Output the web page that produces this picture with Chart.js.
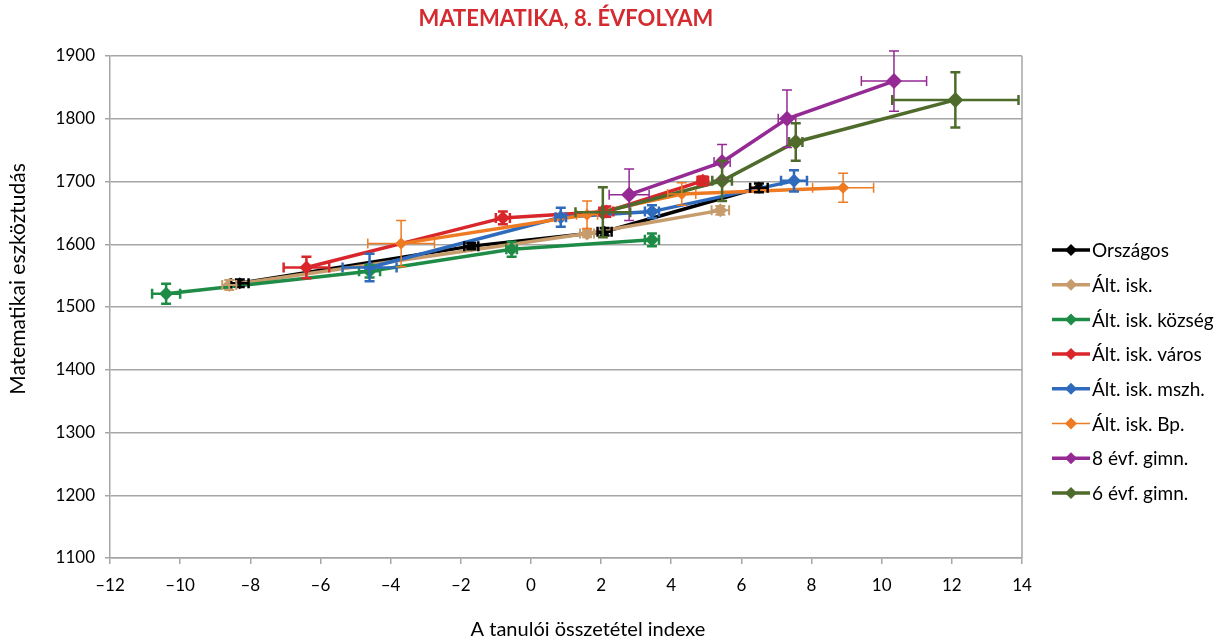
<!DOCTYPE html>
<html>
<head>
<meta charset="utf-8">
<script src="https://cdn.jsdelivr.net/npm/chart.js@4.4.0/dist/chart.umd.min.js"></script>
<style>
body { margin: 0; background: #fff; }
.wrap { width: 1231px; height: 644px; position: relative; }
</style>
</head>
<body>
<div class="wrap"><canvas id="myChart"></canvas></div>
<script>
// series names (legend order)
const seriesNames = ['Országos', 'Ált. isk.', 'Ált. isk. község', 'Ált. isk. város', 'Ált. isk. mszh.', 'Ált. isk. Bp.', '8 évf. gimn.', '6 évf. gimn.'];

// x = tanulói összetétel indexe, y = eszköztudás, xErr/yErr = +/- hibasáv
const orszagosX = [-8.3, -1.7, 2.1, 6.5];
const orszagosY = [1538, 1597, 1620, 1690];
const orszagosXErr = [0.25, 0.2, 0.2, 0.25];
const orszagosYErr = [6, 5, 6, 7];

const altIskX = [-8.6, 1.6, 5.4];
const altIskY = [1535, 1617, 1654];
const altIskXErr = [0.2, 0.2, 0.25];
const altIskYErr = [8, 6, 7];

const kozsegX = [-10.4, -4.6, -0.55, 3.45];
const kozsegY = [1521, 1557, 1592, 1607];
const kozsegXErr = [0.4, 0.3, 0.15, 0.2];
const kozsegYErr = [16, 10, 12, 10];

const varosX = [-6.4, -0.8, 2.15, 4.9];
const varosY = [1563, 1642, 1652, 1701];
const varosXErr = [0.65, 0.2, 0.2, 0.15];
const varosYErr = [17, 10, 8, 7];

const mszhX = [-4.6, 0.85, 3.45, 7.5];
const mszhY = [1563, 1643, 1652, 1701];
const mszhXErr = [0.77, 0.15, 0.2, 0.37];
const mszhYErr = [22, 15, 10, 17];

const bpX = [-3.7, 1.6, 4.3, 8.9];
const bpY = [1601, 1647, 1680, 1690];
const bpXErr = [0.95, 0.3, 0.4, 0.87];
const bpYErr = [37, 22, 18, 23];

const gimn8X = [2.8, 5.45, 7.3, 10.35];
const gimn8Y = [1679, 1731, 1800, 1860];
const gimn8XErr = [0.57, 0.23, 0.25, 0.93];
const gimn8YErr = [41, 28, 46, 48];

const gimn6X = [2.05, 5.45, 7.55, 12.1];
const gimn6Y = [1651, 1701, 1763, 1830];
const gimn6XErr = [0.78, 0.28, 0.19, 1.8];
const gimn6YErr = [40, 32, 30, 44];

const colors = ['#000000', '#c69c6d', '#1e8c46', '#d9262b', '#2f6bbd', '#ee7b22', '#952a95', '#4f6b2c'];
const lineWidths = [3.5, 3.5, 3.5, 3.5, 3.5, 3.5, 3.5, 3.5];
const legendLineWidths = [3.5, 3.5, 3.5, 3.5, 3.5, 1.5, 3.5, 3.5];
const errWidths = [2.5, 2, 2.5, 2.5, 2.5, 1.5, 1.5, 2.5];
const markerSizes = [6, 7, 7, 7, 7, 6, 8, 8];

const xs = [orszagosX, altIskX, kozsegX, varosX, mszhX, bpX, gimn8X, gimn6X];
const ys = [orszagosY, altIskY, kozsegY, varosY, mszhY, bpY, gimn8Y, gimn6Y];
const xErrs = [orszagosXErr, altIskXErr, kozsegXErr, varosXErr, mszhXErr, bpXErr, gimn8XErr, gimn6XErr];
const yErrs = [orszagosYErr, altIskYErr, kozsegYErr, varosYErr, mszhYErr, bpYErr, gimn8YErr, gimn6YErr];

const FONT = 'Lato';

const datasets = seriesNames.map((name, i) => ({
	label: name,
	data: xs[i].map((v, j) => ({ x: v, y: ys[i][j] })),
	borderColor: colors[i],
	backgroundColor: colors[i],
	borderWidth: lineWidths[i],
	pointStyle: 'rectRot',
	pointRadius: markerSizes[i],
	pointBorderWidth: 0,
	showLine: true,
	tension: 0,
	order: -i,
	xErr: xErrs[i],
	yErr: yErrs[i],
	errWidth: errWidths[i]
}));

const errorBars = {
	id: 'errorBars',
	afterDatasetsDraw(chart) {
		const ctx = chart.ctx;
		const x = chart.scales.x, y = chart.scales.y;
		const cap = 5;
		chart.data.datasets.forEach((ds, i) => {
			ctx.save();
			ctx.strokeStyle = ds.borderColor;
			ctx.lineWidth = ds.errWidth;
			ds.data.forEach((p, j) => {
				const px = x.getPixelForValue(p.x), py = y.getPixelForValue(p.y);
				const x0 = x.getPixelForValue(p.x - ds.xErr[j]), x1 = x.getPixelForValue(p.x + ds.xErr[j]);
				const y0 = y.getPixelForValue(p.y - ds.yErr[j]), y1 = y.getPixelForValue(p.y + ds.yErr[j]);
				ctx.beginPath();
				ctx.moveTo(x0, py); ctx.lineTo(x1, py);
				ctx.moveTo(x0, py - cap); ctx.lineTo(x0, py + cap);
				ctx.moveTo(x1, py - cap); ctx.lineTo(x1, py + cap);
				ctx.moveTo(px, y0); ctx.lineTo(px, y1);
				ctx.moveTo(px - cap, y0); ctx.lineTo(px + cap, y0);
				ctx.moveTo(px - cap, y1); ctx.lineTo(px + cap, y1);
				ctx.stroke();
			});
			ctx.restore();
		});
	},
	afterDraw(chart) {
		const ctx = chart.ctx, a = chart.chartArea;
		ctx.save();
		// right border of the plot
		ctx.strokeStyle = '#a6a6a6';
		ctx.lineWidth = 1.5;
		ctx.beginPath(); ctx.moveTo(a.right, a.top); ctx.lineTo(a.right, a.bottom); ctx.stroke();
		// title
		ctx.fillStyle = '#d42a30';
		ctx.font = 'bold 22px ' + FONT;
		ctx.textAlign = 'center';
		ctx.textBaseline = 'middle';
		ctx.fillText('MATEMATIKA, 8. ÉVFOLYAM', (a.left + a.right) / 2, 19);
		// axis titles
		ctx.fillStyle = '#000';
		ctx.font = '20px ' + FONT;
		ctx.fillText('A tanulói összetétel indexe', 588, 630);
		ctx.save();
		ctx.translate(18, 279);
		ctx.rotate(-Math.PI / 2);
		ctx.font = '21px ' + FONT;
		ctx.fillText('Matematikai eszköztudás', 0, 0);
		ctx.restore();
		// legend
		ctx.textAlign = 'left';
		ctx.font = '19px ' + FONT;
		seriesNames.forEach((name, i) => {
			const ly = 250 + i * 34.7;
			ctx.strokeStyle = colors[i];
			ctx.fillStyle = colors[i];
			ctx.lineWidth = legendLineWidths[i];
			ctx.beginPath(); ctx.moveTo(1052, ly); ctx.lineTo(1090, ly); ctx.stroke();
			ctx.beginPath();
			ctx.moveTo(1071, ly - 6); ctx.lineTo(1077, ly); ctx.lineTo(1071, ly + 6); ctx.lineTo(1065, ly);
			ctx.closePath(); ctx.fill();
			ctx.fillStyle = '#000';
			ctx.fillText(name, 1092, ly + 1);
		});
		ctx.restore();
	}
};

const ctx = document.getElementById('myChart').getContext('2d');
const myChart = new Chart(ctx, {
	type: 'scatter',
	data: { datasets: datasets },
	options: {
		responsive: true,
		maintainAspectRatio: false,
		animation: false,
		layout: { padding: { top: 56, left: 5, right: 209, bottom: 0 } },
		plugins: {
			tooltip: { enabled: false },
			legend: { display: false }
		},
		scales: {
			x: {
				type: 'linear',
				min: -12, max: 14,
				afterFit(scale) { scale.height = 86; },
				ticks: {
					stepSize: 2,
					padding: 11,
					color: '#000',
					font: { family: FONT, size: 17 },
					callback: (v) => String(v).replace('-', '–')
				},
				grid: { drawOnChartArea: false, tickLength: 6, color: '#a6a6a6', lineWidth: 1.5 },
				border: { color: '#a6a6a6', width: 1.5 }
			},
			y: {
				min: 1100, max: 1900,
				afterFit(scale) { scale.width = 105; },
				ticks: {
					stepSize: 100,
					padding: 10,
					color: '#000',
					font: { family: FONT, size: 17 },
					callback: (v) => String(v)
				},
				grid: { color: '#a6a6a6', lineWidth: 1.5, tickLength: 5 },
				border: { color: '#a6a6a6', width: 1.5 }
			}
		}
	},
	plugins: [errorBars]
});
</script>
</body>
</html>
